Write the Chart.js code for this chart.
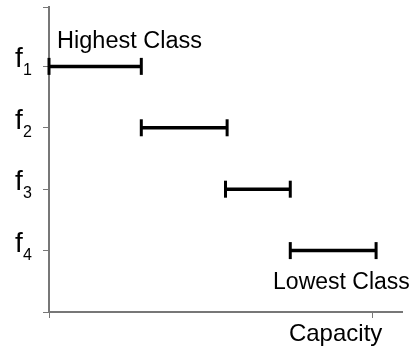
<!DOCTYPE html>
<html>
<head>
<meta charset="utf-8">
<script src="https://cdn.jsdelivr.net/npm/chart.js@4.4.0/dist/chart.umd.min.js"></script>
<style>
  html, body { margin: 0; padding: 0; background: #fff; }
  #wrap { width: 414px; height: 346px; }
</style>
</head>
<body>
<div id="wrap"><canvas id="myChart"></canvas></div>
<script>
// class levels (top to bottom) and their capacity intervals
const classLevels = [1, 2, 3, 4];
const classSubs = ['1', '2', '3', '4'];
const startCapacity = [0, 28.5, 54.5, 74.5];
const endCapacity = [28.5, 55, 74.5, 101];
const capacityTicks = [0, 100];
const noteTexts = ['Highest Class', 'Lowest Class'];
const noteCapacity = [2.5, 69.5];
const noteLevel = [1, 4];
const axisTitle = 'Capacity';

const font = "'Liberation Sans', Arial, sans-serif";
const yMin = 0.033;
const yMax = 5.0;

const datasets = classLevels.map((lvl, i) => ({
  data: [{ x: startCapacity[i], y: lvl }, { x: endCapacity[i], y: lvl }],
  borderColor: '#000',
  borderWidth: 3.5,
  pointStyle: 'line',
  rotation: 90,
  pointRadius: 8.5,
  pointHoverRadius: 8.5,
  pointBorderWidth: 3,
  pointBorderColor: '#000',
  clip: false,
}));

// draws f-subscript labels, notes and axis title
const labelsPlugin = {
  id: 'labels',
  afterDraw(chart) {
    const { ctx } = chart;
    const xs = chart.scales.x;
    const ys = chart.scales.y;
    ctx.save();
    ctx.fillStyle = '#000';
    ctx.textAlign = 'left';
    ctx.textBaseline = 'alphabetic';
    classLevels.forEach((lvl, i) => {
      const py = ys.getPixelForValue(lvl);
      ctx.font = `28px ${font}`;
      ctx.fillText('f', 15, py + 1);
      ctx.font = `16px ${font}`;
      ctx.fillText(classSubs[i], 23, py + 9);
    });
    noteTexts.forEach((t, i) => {
      const px = xs.getPixelForValue(noteCapacity[i]);
      const py = ys.getPixelForValue(noteLevel[i]);
      const off = i === 0 ? -18 : 38;
      ctx.font = i === 0 ? `23.5px ${font}` : `23px ${font}`;
      ctx.fillText(t, px - (i === 0 ? 0 : 1), py + off);
    });
    ctx.font = `24px ${font}`;
    ctx.textAlign = 'center';
    ctx.fillText(axisTitle, xs.getPixelForValue(88.5), chart.chartArea.bottom + 29);
    ctx.restore();
  },
};

const ctx = document.getElementById('myChart').getContext('2d');
const chart = new Chart(ctx, {
  type: 'line',
  data: { datasets },
  options: {
    responsive: true,
    maintainAspectRatio: false,
    animation: false,
    layout: { autoPadding: false, padding: { left: 43, top: 7, right: 12, bottom: 28 } },
    plugins: { legend: { display: false }, tooltip: { enabled: false } },
    scales: {
      x: {
        type: 'linear',
        min: 0,
        max: 109,
        afterBuildTicks: (s) => { s.ticks = capacityTicks.map((v) => ({ value: v })); },
        ticks: { display: false },
        grid: { drawOnChartArea: false, tickLength: 6, color: '#777', lineWidth: 1 },
        border: { color: '#777', width: 2 },
      },
      y: {
        type: 'linear',
        reverse: true,
        min: yMin,
        max: yMax,
        afterBuildTicks: (s) => {
          s.ticks = [yMin, ...classLevels, yMax].map((v) => ({ value: v }));
        },
        ticks: { display: false },
        grid: { drawOnChartArea: false, tickLength: 6, color: '#777', lineWidth: 1 },
        border: { color: '#777', width: 2 },
      },
    },
  },
  plugins: [labelsPlugin],
});
</script>
</body>
</html>
